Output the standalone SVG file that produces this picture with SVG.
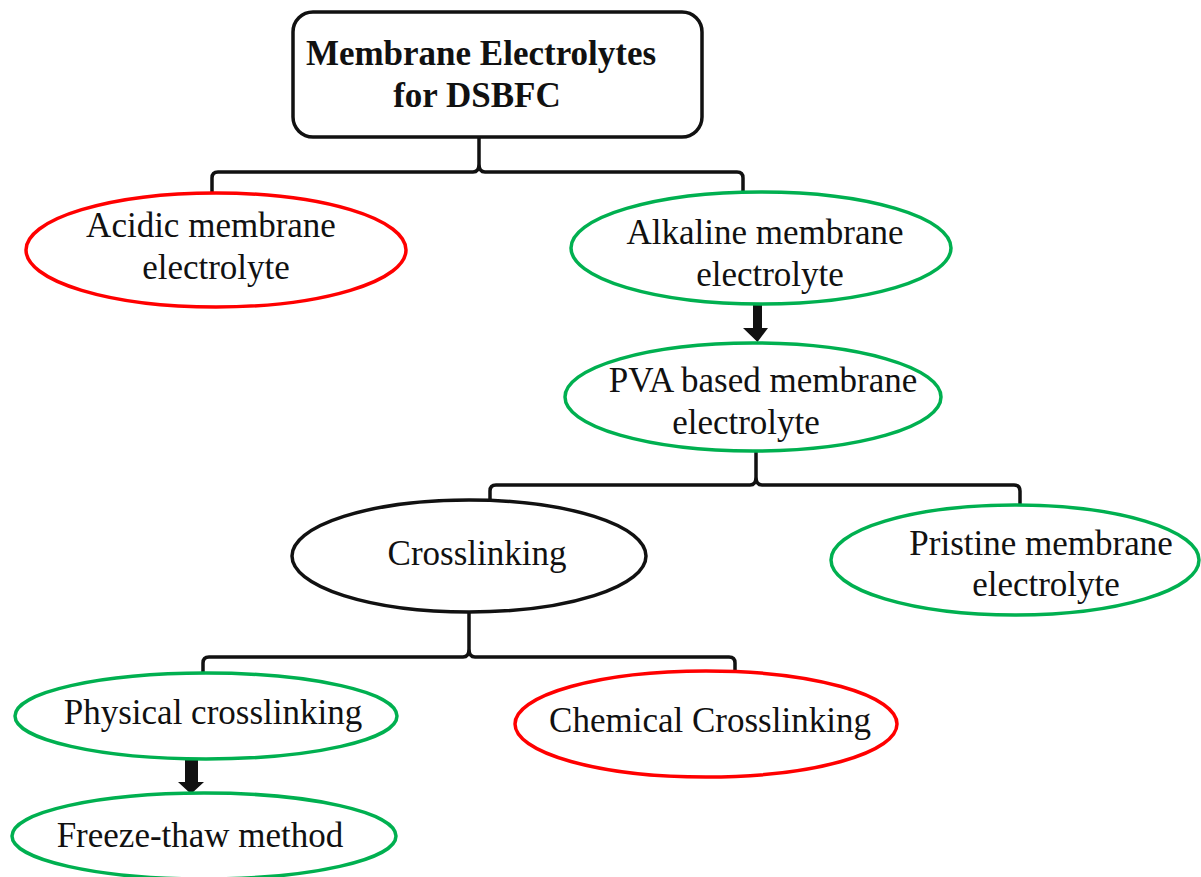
<svg xmlns="http://www.w3.org/2000/svg" width="1201" height="877" viewBox="0 0 1201 877">
<defs>
<style>
.t{font-family:"Liberation Serif","Times New Roman",serif;font-size:35px;fill:#111;text-anchor:middle}
.b{font-weight:bold}
.g{fill:#fff;stroke:#00B050;stroke-width:3.5}
.r{fill:#fff;stroke:#FF0000;stroke-width:3.5}
.k{fill:#fff;stroke:#111;stroke-width:3.5}
.c{fill:none;stroke:#111;stroke-width:3.5;stroke-linejoin:round}
.a{fill:#111}
</style>
</defs>
<rect width="1201" height="877" fill="#fff"/>
<g id="connectors">
<path class="c" d="M212,192 V178 Q212,172 218,172 H473 Q479,172 479,164 V137 M479,164 Q479,172 485,172 H737 Q743,172 743,178 V192"/>
<path class="c" d="M490,506 V491 Q490,485 496,485 H750 Q756,485 756,477 V451 M756,477 Q756,485 762,485 H1014 Q1020,485 1020,491 V506"/>
<path class="c" d="M203,676 V663 Q203,657 209,657 H463 Q469,657 469,649 V612 M469,649 Q469,657 475,657 H729 Q735,657 735,663 V676"/>
<path class="a" d="M753,304 H762 V328 H768 L757.5,342 L743,328 H753 Z"/>
<path class="a" d="M185,757 H198 V782 H204 L191,794 L178,782 H185 Z"/>
</g>
<g id="root">
<rect class="k" x="293" y="12" width="409" height="125" rx="20"/>
<text class="t b" x="481" y="65">Membrane Electrolytes</text>
<text class="t b" x="477" y="107">for DSBFC</text>
</g>
<g id="acidic">
<ellipse class="r" cx="216" cy="250" rx="190" ry="57"/>
<text class="t" x="211" y="237">Acidic membrane</text>
<text class="t" x="216" y="279">electrolyte</text>
</g>
<g id="alkaline">
<ellipse class="g" cx="761" cy="248" rx="190" ry="56"/>
<text class="t" x="765" y="244">Alkaline membrane</text>
<text class="t" x="770" y="286">electrolyte</text>
</g>
<g id="pva">
<ellipse class="g" cx="753" cy="397" rx="188" ry="54"/>
<text class="t" x="763" y="392">PVA based membrane</text>
<text class="t" x="746" y="434">electrolyte</text>
</g>
<g id="crosslinking">
<ellipse class="k" cx="469" cy="556" rx="177" ry="56"/>
<text class="t" x="477" y="565">Crosslinking</text>
</g>
<g id="pristine">
<ellipse class="g" cx="1015" cy="560" rx="184" ry="55"/>
<text class="t" x="1041" y="555">Pristine membrane</text>
<text class="t" x="1046" y="596">electrolyte</text>
</g>
<g id="physical">
<ellipse class="g" cx="206" cy="716" rx="191" ry="43"/>
<text class="t" x="213" y="724">Physical crosslinking</text>
</g>
<g id="chemical">
<ellipse class="r" cx="706" cy="724" rx="191" ry="53"/>
<text class="t" x="710" y="732">Chemical Crosslinking</text>
</g>
<g id="freeze">
<ellipse class="g" cx="204" cy="836" rx="192" ry="43"/>
<text class="t" x="200" y="847">Freeze-thaw method</text>
</g>
</svg>
